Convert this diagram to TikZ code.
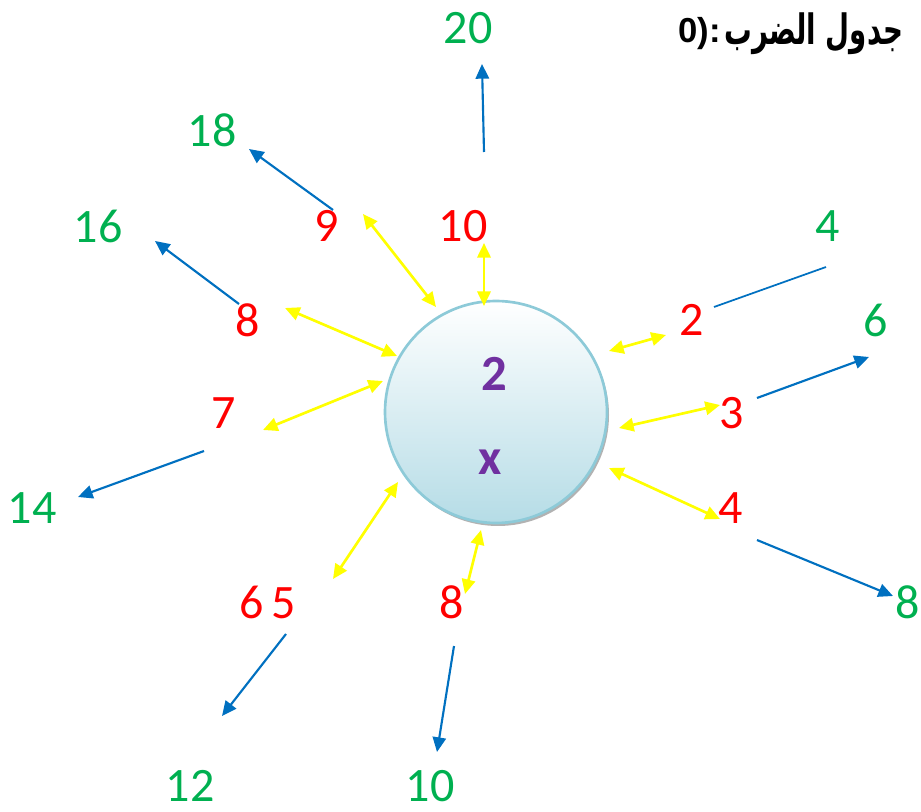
\documentclass[tikz,border=0pt]{standalone}
\usepackage{fontspec}
\setmainfont{Carlito}
\newfontfamily\arabicfont[Script=Arabic]{DejaVu Sans}
\newfontfamily\latinbold{Liberation Sans}
\TeXXeTstate=1
\usetikzlibrary{arrows.meta,shadings}
\definecolor{myred}{HTML}{FF0000}
\definecolor{mygreen}{HTML}{00B050}
\definecolor{myblue}{HTML}{0070C0}
\definecolor{myyellow}{HTML}{FFFF00}
\definecolor{mypurple}{HTML}{7030A0}
\definecolor{circb}{HTML}{B5DCE6}
\definecolor{circedge}{HTML}{8DCAD8}
\tikzset{
  rednum/.style={text=myred,font=\fontsize{36}{40}\selectfont,inner sep=0pt},
  greennum/.style={text=mygreen,font=\fontsize{36}{40}\selectfont,inner sep=0pt},
  yarrow/.style={myyellow,line width=2pt,{Triangle[length=11pt,width=10pt]}-{Triangle[length=11pt,width=10pt]}},
  barrow/.style={myblue,line width=1.6pt,-{Triangle[length=11pt,width=10pt]}},
  bline/.style={myblue,line width=1.3pt},
  inner/.style={text=mypurple,font=\bfseries\fontsize{38}{42}\selectfont,inner sep=0pt}
}
\begin{document}
\begin{tikzpicture}[x=0.75pt,y=-0.75pt]
\useasboundingbox (0,0) rectangle (921,812);
% circle
\fill[gray!60] (498,415) circle (111);
\shade[top color=white,bottom color=circb,draw=circedge,line width=2pt] (496,412) circle (111);
\node[inner] (two) at (494,374) {2};
\node[inner] (x) at (490,462) {x};
% title
\node[anchor=west,inner sep=0pt] (titlear) at (724,34) {\scalebox{0.74}[1.12]{\arabicfont\bfseries\fontsize{28}{32}\selectfont\beginR جدول الضرب\endR}};
\node[anchor=east,inner sep=0pt,font=\latinbold\bfseries\fontsize{26}{30}\selectfont] (titlenum) at ([xshift=-2pt]titlear.west) {0):};
% red numbers
\node[rednum] (r10) at (463,226) {10};
\node[rednum] (r9) at (327,226) {9};
\node[rednum] (r8a) at (248,320) {8};
\node[rednum] (r7) at (224,413) {7};
\node[rednum] (r65) at (268,602) {6\,5};
\node[rednum] (r8b) at (452,602) {8};
\node[rednum] (r2) at (692,320) {2};
\node[rednum] (r3) at (732,413) {3};
\node[rednum] (r4) at (731,508) {4};
% green numbers
\node[greennum] (g20) at (468,28) {20};
\node[greennum] (g18) at (212,130) {18};
\node[greennum] (g16) at (98,226) {16};
\node[greennum] (g14) at (32,508) {14};
\node[greennum] (g12) at (190,786) {12};
\node[greennum] (g10) at (430,786) {10};
\node[greennum] (g4) at (828,226) {4};
\node[greennum] (g6) at (876,320) {6};
\node[greennum] (g8) at (908,602) {8};
% yellow arrow endpoints
\coordinate (y10a) at (484,243); \coordinate (y10b) at (484,306);
\coordinate (y9a) at (363,214); \coordinate (y9b) at (436,307);
\coordinate (y8a) at (285,308); \coordinate (y8b) at (397,356);
\coordinate (y7a) at (263,430); \coordinate (y7b) at (383,381);
\coordinate (y65a) at (333,579); \coordinate (y65b) at (398,482);
\coordinate (y8ba) at (465,594); \coordinate (y8bb) at (481,530);
\coordinate (y2a) at (609,351); \coordinate (y2b) at (666,335);
\coordinate (y3a) at (619,428); \coordinate (y3b) at (720,405);
\coordinate (y4a) at (609,468); \coordinate (y4b) at (720,519);
\draw[yarrow] (y10a) -- (y10b);
\draw[yarrow] (y9a) -- (y9b);
\draw[yarrow] (y8a) -- (y8b);
\draw[yarrow] (y7a) -- (y7b);
\draw[yarrow] (y65a) -- (y65b);
\draw[yarrow] (y8ba) -- (y8bb);
\draw[yarrow] (y2a) -- (y2b);
\draw[yarrow] (y3a) -- (y3b);
\draw[yarrow] (y4a) -- (y4b);
% blue arrow endpoints
\coordinate (b20a) at (484,152); \coordinate (b20b) at (482,64);
\coordinate (b18a) at (333,210); \coordinate (b18b) at (249,149);
\coordinate (b16a) at (239,304); \coordinate (b16b) at (155,241);
\coordinate (b14a) at (204,451); \coordinate (b14b) at (78,497);
\coordinate (b12a) at (286,634); \coordinate (b12b) at (222,716);
\coordinate (b10a) at (454,646); \coordinate (b10b) at (437,752);
\coordinate (b4a) at (714,307); \coordinate (b4b) at (826,267);
\coordinate (b6a) at (757,398); \coordinate (b6b) at (869,357);
\coordinate (b8a) at (757,540); \coordinate (b8b) at (893,596);
\draw[barrow] (b20a) -- (b20b);
\draw[barrow] (b18a) -- (b18b);
\draw[barrow] (b16a) -- (b16b);
\draw[barrow] (b14a) -- (b14b);
\draw[barrow] (b12a) -- (b12b);
\draw[barrow] (b10a) -- (b10b);
\draw[bline] (b4a) -- (b4b);
\draw[barrow] (b6a) -- (b6b);
\draw[barrow] (b8a) -- (b8b);
\end{tikzpicture}
\end{document}
